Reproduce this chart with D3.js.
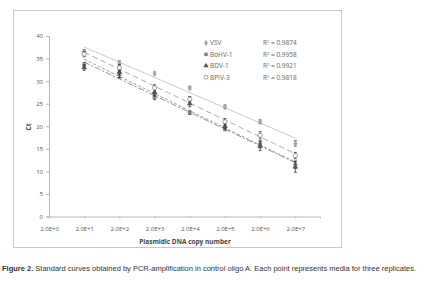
<!DOCTYPE html>
<html lang="en">
<head>
    <meta charset="UTF-8">
    <title>Standard curves</title>
    <script src="https://d3js.org/d3.v7.min.js"></script>
    <style>
        body { margin: 0; background: #fff; }
        .tick text { font-family: "Open Sans", "Liberation Sans", sans-serif; font-size: 6px; fill: #555; }
        .legend text { font-family: "Open Sans", "Liberation Sans", sans-serif; font-size: 6.5px; fill: #666; }
    </style>
</head>
<body>
    <div id="chart"></div>
    <script>
        // copy number exponents (2.0E+n)
        var exponents = [1, 2, 3, 4, 5, 6, 7];
        var tickExps = [0, 1, 2, 3, 4, 5, 6, 7];
        var yTicks = [0, 5, 10, 15, 20, 25, 30, 35, 40];

        var seriesNames = ["VSV", "BoHV-1", "BDV-1", "BPIV-3"];
        var r2Labels = ["0.9874", "0.9958", "0.9921", "0.9818"];

        // mean Ct per dilution
        var vsv   = [36.5, 34.0, 31.7, 28.5, 24.3, 21.0, 16.2];
        var bohv1 = [33.5, 31.5, 26.5, 23.0, 19.5, 16.0, 11.5];
        var bdv1  = [33.0, 32.0, 27.5, 25.0, 20.0, 15.6, 11.0];
        var bpiv3 = [36.0, 33.0, 28.5, 26.0, 21.0, 18.0, 13.5];

        // error (sd) per dilution
        var vsvErr   = [0.5, 0.5, 0.3, 0.3, 0.4, 0.4, 0.6];
        var bohv1Err = [0.6, 0.8, 0.6, 0.4, 0.5, 0.8, 0.8];
        var bdv1Err  = [0.6, 1.2, 0.8, 0.7, 0.6, 1.0, 1.2];
        var bpiv3Err = [0.6, 0.7, 0.7, 0.6, 0.7, 0.8, 0.7];

        var allValues = [vsv, bohv1, bdv1, bpiv3];
        var allErrors = [vsvErr, bohv1Err, bdv1Err, bpiv3Err];

        var W = 435, H = 295;
        var svg = d3.select("#chart").append("svg")
            .attr("width", W).attr("height", H);

        // chart frame
        svg.append("rect")
            .attr("x", 13.5).attr("y", 10.5)
            .attr("width", 328).attr("height", 237)
            .attr("fill", "none").attr("stroke", "#c8c8c8");

        var x = d3.scaleLinear().domain([0, 7.7]).range([49, 320]);
        var y = d3.scaleLinear().domain([0, 40]).range([216.5, 36]);

        // axes
        var yAxis = svg.append("g")
            .attr("transform", "translate(49,0)")
            .call(d3.axisLeft(y).tickValues(yTicks).tickSize(3).tickPadding(3));
        var xAxis = svg.append("g")
            .attr("transform", "translate(0,216.5)")
            .call(d3.axisBottom(x).tickValues(tickExps).tickSize(2).tickPadding(8)
                .tickFormat(function(d) { return "2.0E+" + d; }));
        [xAxis, yAxis].forEach(function(a) {
            a.select(".domain").attr("stroke", "#b8b8b8");
            a.selectAll(".tick line").attr("stroke", "#b8b8b8");
        });

        svg.append("text")
            .attr("transform", "translate(31,127) rotate(-90)")
            .attr("text-anchor", "middle")
            .style("font-family", "Open Sans, sans-serif")
            .style("font-size", "6.5px").style("font-weight", "bold")
            .attr("fill", "#444")
            .text("Ct");

        svg.append("text")
            .attr("x", 185).attr("y", 244)
            .attr("text-anchor", "middle")
            .style("font-family", "Open Sans, sans-serif")
            .style("font-size", "6.5px").style("font-weight", "bold")
            .attr("fill", "#444")
            .text("Plasmidic DNA copy number");

        var markerColor = ["#a6a6a6", "#7f7f7f", "#555555", "#ffffff"];
        var lineColor = ["#bcbcbc", "#777777", "#888888", "#999999"];
        var lineDash = [null, "6,2,2,2", "3,2", "6,3"];
        var symbols = [d3.symbolDiamond, d3.symbolSquare, d3.symbolTriangle, d3.symbolCircle];

        // linear trend lines (least squares over exponent)
        allValues.forEach(function(vals, s) {
            var mx = d3.mean(exponents), my = d3.mean(vals);
            var num = d3.sum(exponents, function(e, i) { return (e - mx) * (vals[i] - my); });
            var den = d3.sum(exponents, function(e) { return (e - mx) * (e - mx); });
            var slope = num / den, icpt = my - slope * mx;
            svg.append("line")
                .attr("x1", x(1)).attr("y1", y(icpt + slope))
                .attr("x2", x(7)).attr("y2", y(icpt + slope * 7))
                .attr("stroke", lineColor[s]).attr("stroke-width", 0.8)
                .attr("stroke-dasharray", lineDash[s]);
        });

        // error bars and markers
        allValues.forEach(function(vals, s) {
            var g = svg.append("g");
            var pts = vals.map(function(v, i) { return { e: exponents[i], v: v, err: allErrors[s][i] }; });
            g.selectAll(".eb").data(pts).enter().append("path")
                .attr("d", function(d) {
                    var cx = x(d.e), t = y(d.v + d.err), b = y(d.v - d.err);
                    return "M" + cx + "," + t + "V" + b +
                        "M" + (cx - 1.5) + "," + t + "H" + (cx + 1.5) +
                        "M" + (cx - 1.5) + "," + b + "H" + (cx + 1.5);
                })
                .attr("stroke", "#222").attr("stroke-width", 0.7).attr("fill", "none");
            g.selectAll(".mk").data(pts).enter().append("path")
                .attr("transform", function(d) { return "translate(" + x(d.e) + "," + y(d.v) + ")"; })
                .attr("d", d3.symbol().type(symbols[s]).size(14))
                .attr("fill", markerColor[s])
                .attr("stroke", s === 3 ? "#777" : "none").attr("stroke-width", 0.7);
        });

        // legend
        var legend = svg.append("g").attr("class", "legend");
        seriesNames.forEach(function(name, i) {
            var ly = 43 + i * 11.4;
            legend.append("path")
                .attr("transform", "translate(206," + ly + ")")
                .attr("d", d3.symbol().type(symbols[i]).size(12))
                .attr("fill", markerColor[i])
                .attr("stroke", i === 3 ? "#777" : "none").attr("stroke-width", 0.7);
            legend.append("text").attr("x", 210).attr("y", ly + 2.3).text(name);
            var t = legend.append("text").attr("x", 263).attr("y", ly + 2.3);
            t.append("tspan").text("R");
            t.append("tspan").attr("dy", -2).style("font-size", "4px").text("2");
            t.append("tspan").attr("dy", 2).text(" = " + r2Labels[i]);
        });

        // caption
        var cap = svg.append("text")
            .attr("x", 2).attr("y", 270.5)
            .style("font-family", "Liberation Sans, Arial, sans-serif")
            .style("font-size", "7.5px").attr("fill", "#333");
        cap.append("tspan").style("font-weight", "bold").text("Figure 2.");
        cap.append("tspan").text(" Standard curves obtained by PCR-amplification in control oligo A. Each point represents media for three replicates.");
    </script>
</body>
</html>
